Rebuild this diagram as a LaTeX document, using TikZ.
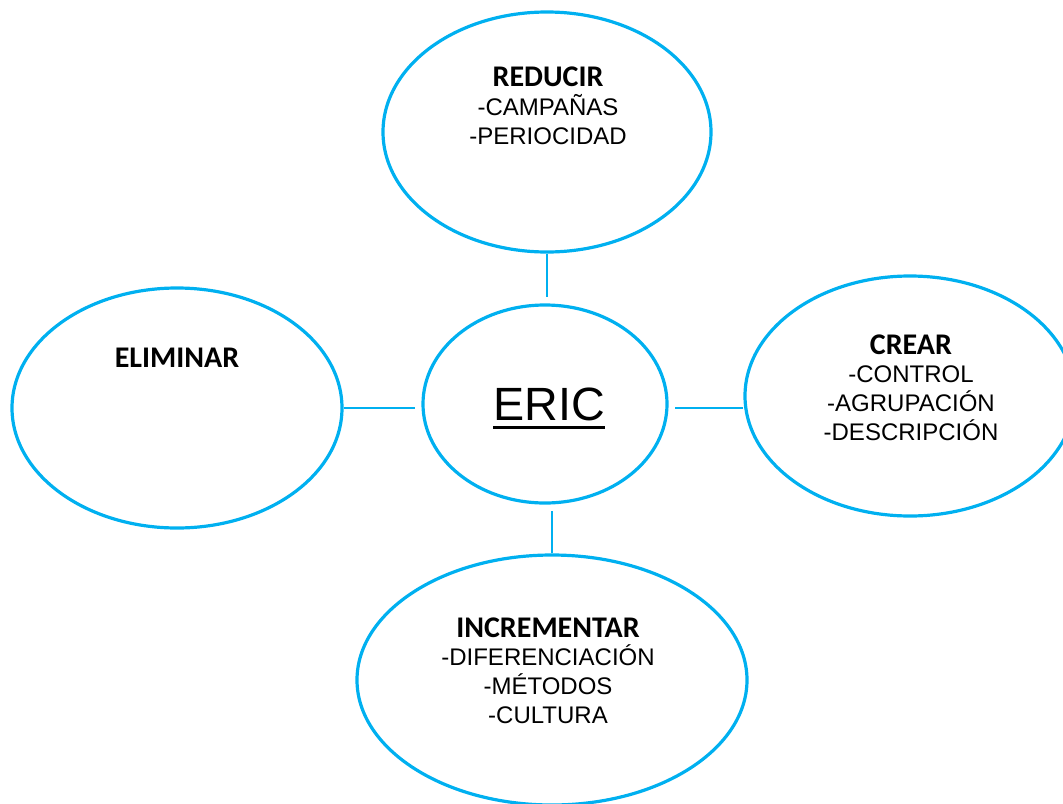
\documentclass[tikz,border=0pt]{standalone}
\usepackage{fontspec}
\setmainfont{Liberation Sans}
\newfontfamily\headfont{Carlito}
\usepackage{tikz}
\definecolor{ericblue}{RGB}{0, 176, 240}
\usetikzlibrary{shapes.geometric}
\newcommand{\actname}[1]{{\headfont\bfseries\fontsize{22.5pt}{21.5pt}\selectfont #1}}
\newcommand{\ulword}[1]{\setbox0\hbox{#1}\rlap{\rule[-6.4pt]{\wd0}{2.25pt}}\box0}

\begin{document}
\begin{tikzpicture}[x=0.75pt, y=-0.75pt,
        bubble/.style={draw=ericblue, line width=2.4pt, ellipse, inner sep=0pt},
        link/.style={draw=ericblue, line width=1.4pt},
        txt/.style={align=center, anchor=base, font=\fontsize{18pt}{21.5pt}\selectfont}]
    \path[use as bounding box, clip] (0,0) rectangle (1063,803);

    % Central circle and the four actions around it
    \node[bubble, minimum width=183pt, minimum height=148.5pt, outer sep=6pt] (eric) at (545,404) {};
    \node[bubble, minimum width=246pt, minimum height=180pt] (reducir) at (547,132) {};
    \node[bubble, minimum width=247.5pt, minimum height=180pt] (eliminar) at (177,408) {};
    \node[bubble, minimum width=247.5pt, minimum height=180pt] (crear) at (910,396) {};
    \node[bubble, minimum width=292.5pt, minimum height=187.5pt] (incrementar) at (552,680) {};

    % base anchor sits on the last line of each list
    \node[txt, font=\fontsize{35pt}{40pt}\selectfont] (erictxt) at (549,420) {\ulword{ERIC}};
    \node[txt] (reducirtxt) at (548,144) {\actname{REDUCIR}\\-CAMPAÑAS\\-PERIOCIDAD};
    \node[txt] (eliminartxt) at (177,367) {\actname{ELIMINAR}};
    \node[txt] (creartxt) at (911,440) {\actname{CREAR}\\-CONTROL\\-AGRUPACIÓN\\-DESCRIPCIÓN};
    \node[txt] (incrementartxt) at (548,723) {\actname{INCREMENTAR}\\-DIFERENCIACIÓN\\-MÉTODOS\\-CULTURA};

    % Spokes
    \draw[link] (reducir.south) -- (reducir.south |- eric.north);
    \draw[link] (eliminar.east) -- (eliminar.east -| eric.west);
    \draw[link] (eliminar.east -| eric.east) -- (eliminar.east -| crear.west);
    \draw[link] (incrementar.north) -- (incrementar.north |- eric.south);
\end{tikzpicture}
\end{document}
